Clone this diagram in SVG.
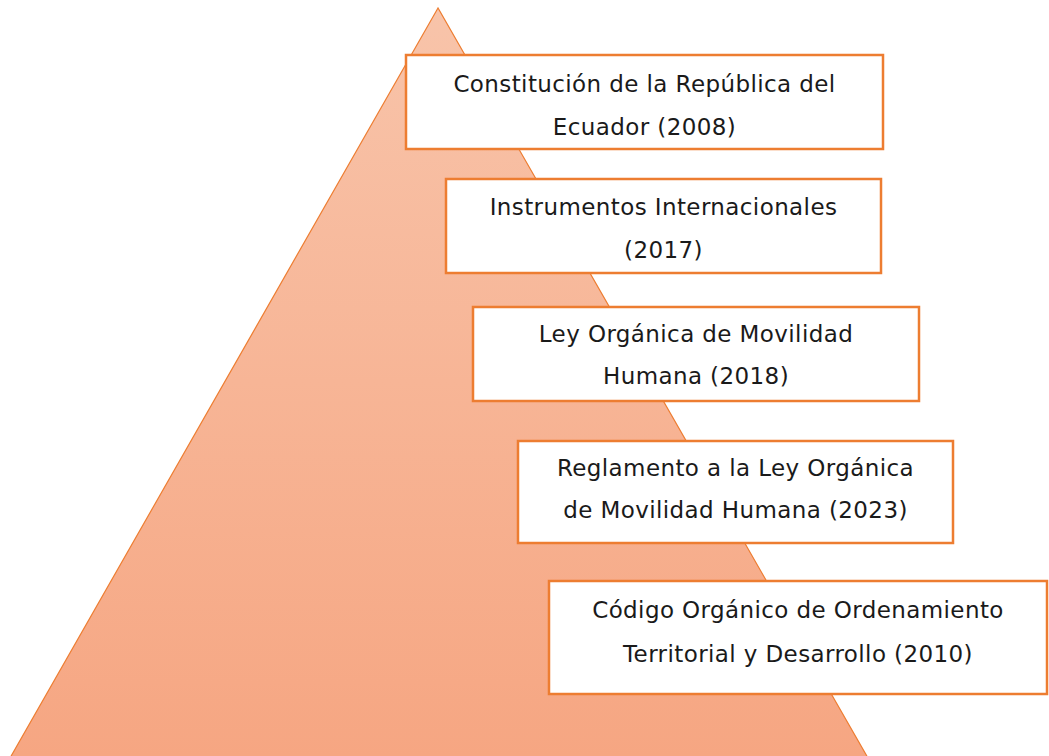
<svg xmlns="http://www.w3.org/2000/svg" width="1049" height="756" viewBox="0 0 1049 756">
<defs>
<linearGradient id="pyr" x1="0" y1="8" x2="0" y2="756" gradientUnits="userSpaceOnUse">
<stop offset="0" stop-color="#F8C4AA"/>
<stop offset="1" stop-color="#F6A682"/>
</linearGradient>
</defs>
<style>
.box{fill:#FFFFFF;stroke:#ED7D31;stroke-width:2.5}
.t{font-family:"DejaVu Sans",Verdana,sans-serif;font-size:23px;letter-spacing:0.4px;fill:#1A1A1A;text-anchor:middle}
</style>
<rect width="1049" height="756" fill="#FFFFFF"/>
<g id="pyramid">
<polygon points="438,8 10,758 868,758" fill="url(#pyr)" stroke="#ED7D31" stroke-width="1.2"/>
</g>
<g id="connectors"></g>
<g id="n1">
<rect class="box" x="406" y="55" width="477" height="94"/>
<text class="t" x="644.5" y="92">Constitución de la República del</text>
<text class="t" x="644.5" y="135">Ecuador (2008)</text>
</g>
<g id="n2">
<rect class="box" x="446" y="179" width="435" height="94"/>
<text class="t" x="663.5" y="215">Instrumentos Internacionales</text>
<text class="t" x="663.5" y="258">(2017)</text>
</g>
<g id="n3">
<rect class="box" x="473" y="307" width="446" height="94"/>
<text class="t" x="696" y="342">Ley Orgánica de Movilidad</text>
<text class="t" x="696" y="384">Humana (2018)</text>
</g>
<g id="n4">
<rect class="box" x="518" y="441" width="435" height="102"/>
<text class="t" x="735.5" y="476">Reglamento a la Ley Orgánica</text>
<text class="t" x="735.5" y="518">de Movilidad Humana (2023)</text>
</g>
<g id="n5">
<rect class="box" x="549" y="581" width="498" height="113"/>
<text class="t" x="798" y="618">Código Orgánico de Ordenamiento</text>
<text class="t" x="798" y="662">Territorial y Desarrollo (2010)</text>
</g>
</svg>
